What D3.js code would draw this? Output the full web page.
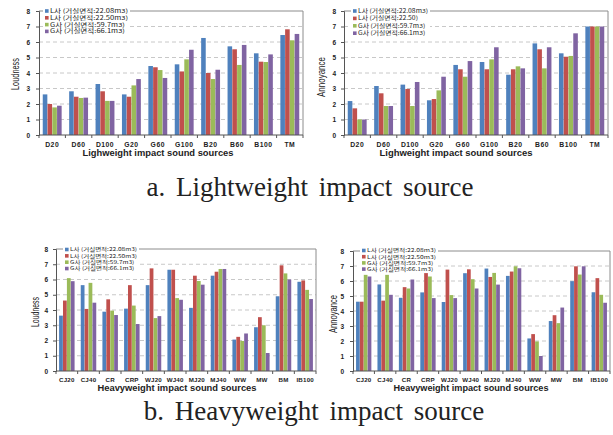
<!DOCTYPE html>
<html>
<head>
<meta charset="utf-8">
<script src="https://cdn.jsdelivr.net/npm/d3@7"></script>
<style>
    body { margin: 0; background: #fff; }
    text { fill: #222; }
</style>
</head>
<body>
<script>
// Categories
let lightCats = ["D20", "D60", "D100", "G20", "G60", "G100", "B20", "B60", "B100", "TM"];
let heavyCats = ["CJ20", "CJ40", "CR", "CRP", "WJ20", "WJ40", "MJ20", "MJ40", "WW", "MW", "BM", "IB100"];

// Legend labels
let legendMain = ["L사 (거실면적:22.08m3)", "L사 (거실면적:22.50m3)", "G사 (거실면적:59.7m3)", "G사 (거실면적:66.1m3)"];
let legendAlt = ["L사 (거실면적:22.08m3)", "L사 (거실면적:22.50)", "G사 (거실면적:59.7m3)", "G사 (거실면적:66.1m3)"];

let yTicks = [0, 1, 2, 3, 4, 5, 6, 7, 8];

// Series values, one row per apartment
let lightLoudness = [
    [2.62, 2.82, 3.29, 2.62, 4.45, 4.56, 6.26, 5.72, 5.27, 6.45],
    [2.00, 2.47, 2.82, 2.47, 4.37, 4.10, 4.00, 5.53, 4.73, 6.82],
    [1.78, 2.39, 2.20, 3.20, 4.19, 4.88, 3.61, 4.52, 4.71, 6.11],
    [1.89, 2.41, 2.20, 3.61, 3.68, 5.50, 4.21, 5.81, 5.20, 6.52]
];
let lightAnnoyance = [
    [2.19, 3.16, 3.25, 2.24, 4.52, 4.71, 3.89, 5.91, 5.27, 7.00],
    [1.72, 2.69, 2.97, 2.32, 4.24, 4.24, 4.24, 5.53, 5.05, 7.00],
    [1.00, 1.87, 1.87, 2.88, 3.76, 4.88, 4.43, 4.30, 5.10, 7.00],
    [1.00, 1.87, 3.42, 3.76, 4.77, 5.66, 4.30, 5.66, 6.56, 7.00]
];
let heavyLoudness = [
    [3.63, 5.63, 3.89, 4.09, 5.63, 6.64, 4.14, 6.25, 2.06, 2.87, 4.90, 5.85],
    [4.62, 4.07, 4.70, 5.63, 6.73, 6.64, 6.25, 6.51, 2.24, 3.53, 6.93, 5.94],
    [6.09, 5.78, 3.96, 4.29, 3.47, 4.78, 5.90, 6.69, 1.97, 3.00, 6.40, 5.32],
    [5.89, 4.48, 3.67, 3.08, 3.60, 4.67, 5.66, 6.69, 2.46, 1.18, 6.00, 4.72]
];
let heavyAnnoyance = [
    [4.62, 5.77, 4.88, 5.24, 4.60, 6.52, 6.83, 6.34, 2.17, 3.33, 5.99, 5.25],
    [4.62, 4.69, 5.59, 6.61, 6.76, 6.78, 6.27, 6.63, 2.46, 3.72, 6.98, 6.19],
    [6.41, 6.41, 5.50, 6.30, 5.06, 6.12, 6.54, 6.98, 1.97, 3.19, 6.43, 5.08],
    [6.30, 5.08, 6.10, 4.86, 4.86, 5.50, 5.76, 6.85, 1.00, 4.23, 6.98, 4.55]
];

let colors = ["#4f81bd", "#c0504d", "#9bbb59", "#8064a2"];

let svg = d3.select("body")
            .append("svg")
            .attr("width", 613)
            .attr("height", 435)
            .style("font-family", "Arial, 'Liberation Sans', sans-serif");

let charts = [
    { cats: lightCats, values: lightLoudness, legend: legendMain, yLabel: "Loudness", yLabelLen: 32,
      xTitle: "Lighweight impact sound sources", left: 39, right: 303, top: 11, bottom: 135,
      tickX: 30, yLabelX: 15.5, yLabelY: 74, catY: 147, catFont: 6.8, catSpace: 0.5,
      titleX: 158, titleY: 156, titleLen: 151,
      legX: 45, legY: 11, legStep: 6.8, legFont: 5.6, legEnd: 128 },
    { cats: lightCats, values: lightAnnoyance, legend: legendAlt, yLabel: "Annoyance", yLabelLen: 40,
      xTitle: "Lighweight impact sound sources", left: 344, right: 608, top: 11, bottom: 135,
      tickX: 336, yLabelX: 321.5, yLabelY: 77, catY: 147, catFont: 6.8, catSpace: 0.5,
      titleX: 456, titleY: 156, titleLen: 153,
      legX: 353, legY: 11, legStep: 7.4, legFont: 5.6, legEnd: 428 },
    { cats: heavyCats, values: heavyLoudness, legend: legendMain, yLabel: "Loudness", yLabelLen: 30,
      xTitle: "Heavyweight impact sound sources", left: 56, right: 316, top: 249, bottom: 371,
      tickX: 48, yLabelX: 35.5, yLabelY: 312, catY: 382, catFont: 6.2, catSpace: 0.2,
      titleX: 177, titleY: 391, titleLen: 159,
      legX: 65, legY: 249.5, legStep: 6.35, legFont: 5.0, legEnd: 137 },
    { cats: heavyCats, values: heavyAnnoyance, legend: legendMain, yLabel: "Annoyance", yLabelLen: 38,
      xTitle: "Heavyweight impact sound sources", left: 353, right: 610, top: 251, bottom: 371,
      tickX: 344, yLabelX: 333.5, yLabelY: 314, catY: 382, catFont: 6.2, catSpace: 0.2,
      titleX: 471, titleY: 391, titleLen: 155,
      legX: 362, legY: 250.5, legStep: 6.2, legFont: 5.0, legEnd: 436 }
];

charts.forEach(drawChart);

// Figure captions
svg.append("text")
   .attr("x", 310).attr("y", 196)
   .attr("text-anchor", "middle")
   .style("font-family", "'Liberation Serif', 'DejaVu Serif', serif")
   .style("font-size", "27px")
   .style("word-spacing", "4px")
   .text("a. Lightweight impact source");

svg.append("text")
   .attr("x", 314).attr("y", 420)
   .attr("text-anchor", "middle")
   .style("font-family", "'Liberation Serif', 'DejaVu Serif', serif")
   .style("font-size", "27px")
   .style("word-spacing", "4px")
   .text("b. Heavyweight impact source");

// Draws one grouped bar chart
function drawChart(c) {
    let g = svg.append("g");

    let x0 = d3.scaleBand()
               .domain(c.cats)
               .range([c.left, c.right])
               .paddingInner(0.27)
               .paddingOuter(0.135);

    let x1 = d3.scaleBand()
               .domain(d3.range(c.values.length))
               .range([0, x0.bandwidth()])
               .padding(0.04);

    let y = d3.scaleLinear()
              .domain([0, 8])
              .range([c.bottom, c.top]);

    // Dashed gridlines
    g.selectAll("line.grid")
     .data(yTicks.filter(t => t > 0 && t < 8))
     .enter()
     .append("line")
     .attr("class", "grid")
     .attr("x1", c.left).attr("x2", c.right)
     .attr("y1", d => y(d)).attr("y2", d => y(d))
     .attr("stroke", "#c8c8c8")
     .attr("stroke-width", 1)
     .attr("stroke-dasharray", "4,3");

    // Frame on top and right
    g.append("path")
     .attr("d", `M${c.left},${y(8)}H${c.right}V${c.bottom}`)
     .attr("fill", "none")
     .attr("stroke", "#8c8c8c")
     .attr("stroke-width", 1);

    // Bars
    let groups = g.selectAll("g.cat")
                  .data(c.cats)
                  .enter()
                  .append("g")
                  .attr("class", "cat")
                  .attr("transform", d => `translate(${x0(d)},0)`);

    groups.selectAll("rect")
          .data((d, i) => c.values.map((s, k) => ({ k: k, v: s[i] })))
          .enter()
          .append("rect")
          .attr("x", d => x1(d.k))
          .attr("y", d => y(d.v))
          .attr("width", x1.bandwidth())
          .attr("height", d => c.bottom - y(d.v))
          .attr("fill", d => colors[d.k]);

    // Y axis
    let yAxis = g.append("g")
                 .attr("transform", `translate(${c.left},0)`)
                 .call(d3.axisLeft(y).tickValues(yTicks).tickSize(3).tickPadding(c.left - c.tickX - 3));
    yAxis.select(".domain").attr("stroke", "#555");
    yAxis.selectAll(".tick line").attr("stroke", "#555");
    yAxis.selectAll(".tick text")
         .style("font-size", "6.5px")
         .style("font-weight", "bold")
         .attr("fill", "#333");

    // X axis line with ticks between categories
    g.append("line")
     .attr("x1", c.left).attr("x2", c.right)
     .attr("y1", c.bottom).attr("y2", c.bottom)
     .attr("stroke", "#555");

    g.selectAll("line.xtick")
     .data(d3.range(c.cats.length + 1))
     .enter()
     .append("line")
     .attr("class", "xtick")
     .attr("x1", i => c.left + i * x0.step())
     .attr("x2", i => c.left + i * x0.step())
     .attr("y1", c.bottom).attr("y2", c.bottom + 3)
     .attr("stroke", "#555");

    g.selectAll("text.cat")
     .data(c.cats)
     .enter()
     .append("text")
     .attr("class", "cat")
     .attr("x", d => x0(d) + x0.bandwidth() / 2)
     .attr("y", c.catY)
     .attr("text-anchor", "middle")
     .style("font-size", c.catFont + "px")
     .style("font-weight", "bold")
     .style("letter-spacing", c.catSpace + "px")
     .attr("fill", "#333")
     .text(d => d);

    // Axis titles
    g.append("text")
     .attr("x", c.titleX).attr("y", c.titleY)
     .attr("text-anchor", "middle")
     .attr("textLength", c.titleLen)
     .attr("lengthAdjust", "spacingAndGlyphs")
     .style("font-size", "9px")
     .style("font-weight", "bold")
     .text(c.xTitle);

    g.append("text")
     .attr("transform", `translate(${c.yLabelX},${c.yLabelY}) rotate(-90)`)
     .attr("text-anchor", "middle")
     .attr("dy", "0.35em")
     .attr("textLength", c.yLabelLen)
     .attr("lengthAdjust", "spacingAndGlyphs")
     .style("font-size", "10px")
     .text(c.yLabel);

    // Legend
    let leg = g.append("g");
    leg.append("rect")
       .attr("x", c.legX - 2)
       .attr("y", c.legY - 4)
       .attr("width", c.legEnd - c.legX + 4)
       .attr("height", c.legStep * 3 + 8)
       .attr("fill", "#fff");

    let rows = leg.selectAll("g.row")
                  .data(c.legend)
                  .enter()
                  .append("g")
                  .attr("class", "row")
                  .attr("transform", (d, i) => `translate(${c.legX},${c.legY + i * c.legStep})`);

    rows.append("rect")
        .attr("x", 0).attr("y", -1.8)
        .attr("width", 3.6).attr("height", 3.6)
        .attr("fill", (d, i) => colors[i]);

    let labels = rows.append("text")
                     .attr("x", 5)
                     .attr("y", 0)
                     .attr("dy", "0.36em")
                     .style("font-family", "'Noto Sans CJK KR', sans-serif")
                     .style("font-size", c.legFont + "px")
                     .attr("fill", "#333")
                     .text(d => d);

    // Stretch the short legend text sideways, as in the source image
    let widths = labels.nodes().map(n => n.getComputedTextLength());
    let factor = (c.legEnd - c.legX - 5) / d3.max(widths);
    labels.attr("textLength", (d, i) => widths[i] * factor)
          .attr("lengthAdjust", "spacingAndGlyphs");
}
</script>
</body>
</html>
